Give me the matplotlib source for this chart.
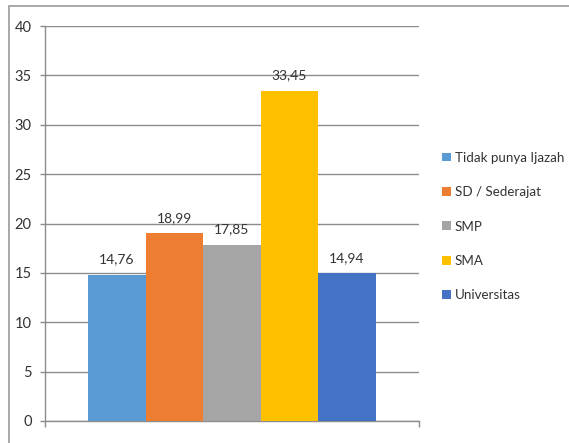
import matplotlib.pyplot as plt
from matplotlib.patches import Patch, Rectangle

# data
categories = ["Tidak punya Ijazah", "SD / Sederajat", "SMP", "SMA", "Universitas"]
values = [14.76, 18.99, 17.85, 33.45, 14.94]
colors = ["#5B9BD5", "#ED7D31", "#A5A5A5", "#FFC000", "#4472C4"]
y_ticks = [0, 5, 10, 15, 20, 25, 30, 35, 40]

plt.rcParams["font.family"] = ["Lato", "DejaVu Sans"]

fig = plt.figure(figsize=(5.69, 4.43), dpi=100)
ax = fig.add_axes([45 / 569, 1 - 421 / 443, 374 / 569, 395 / 443])

grid_color = "#8C8C8C"
x = list(range(len(values)))
bars = ax.bar(x, values, width=1.0, color=colors, zorder=3)

for xi, v in zip(x, values):
    ax.annotate(f"{v:.2f}".replace(".", ","), (xi, v), xytext=(0, 7),
                textcoords="offset points", ha="center", va="bottom",
                fontsize=10, color="#333333")

ax.set_xlim(-1.25, 5.25)
ax.set_ylim(0, 40)
ax.set_yticks(y_ticks)
ax.set_xticks([-1.25, 5.25])
ax.set_xticklabels([])
ax.yaxis.grid(True, color=grid_color, linewidth=1.0, zorder=0)
ax.tick_params(axis="y", length=3.5, width=1, color=grid_color, labelsize=10.5,
               labelcolor="#333333", pad=6)
ax.tick_params(axis="x", length=4.5, width=1, color=grid_color)
for s in ["top", "right"]:
    ax.spines[s].set_visible(False)
for s in ["left", "bottom"]:
    ax.spines[s].set_color(grid_color)
    ax.spines[s].set_linewidth(1.0)

handles = [Patch(facecolor=c, edgecolor="none") for c in colors]
fig.legend(handles, categories, loc="center left",
           bbox_to_anchor=(442 / 569, 1 - 226.5 / 443), bbox_transform=fig.transFigure,
           frameon=False, fontsize=9.6, labelspacing=1.68, handlelength=0.65,
           handleheight=0.65, handletextpad=0.3, borderpad=0, borderaxespad=0,
           labelcolor="#333333")

# chart border (cropped on right and bottom)
fig.patches.append(Rectangle((9 / 569, -0.2), 1.5, 1.2 - 6 / 443,
                             transform=fig.transFigure, fill=False,
                             edgecolor="#9A9A9A", linewidth=1.2))

fig.savefig("out.png", dpi=100)
